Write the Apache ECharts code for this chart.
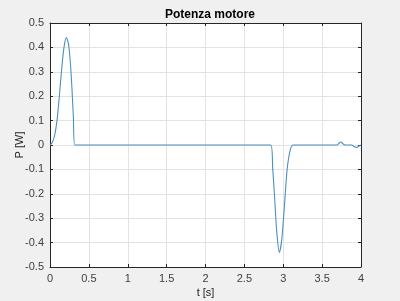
<!DOCTYPE html>
<html><head><meta charset="utf-8">
<script src="https://cdn.jsdelivr.net/npm/echarts@6/dist/echarts.min.js"></script>
<style>html,body{margin:0;padding:0;background:#f0f0f0}#c{width:400px;height:301px}</style>
</head><body><div id="c"></div>
<script>
var titleText = 'Potenza motore';
var xName = 't [s]';
var yName = 'P [W]';
var timeS = [0, 0.03, 0.06, 0.09, 0.12, 0.15, 0.18, 0.21, 0.24, 0.27, 0.30, 0.32,
  1.0, 2.0, 2.84, 2.865, 2.89, 2.915, 2.95, 2.98, 3.015, 3.05, 3.09, 3.13,
  3.5, 3.69, 3.72, 3.745, 3.77, 3.8, 3.88, 3.91, 3.94, 3.97, 4.0];
var powerW = [0, 0.01, 0.04, 0.10, 0.20, 0.31, 0.40, 0.44, 0.41, 0.30, 0.12, 0,
  0, 0, 0, -0.10, -0.22, -0.35, -0.44, -0.39, -0.25, -0.10, -0.02, 0,
  0, 0, 0.008, 0.012, 0.004, 0, 0, -0.006, -0.01, -0.005, 0];
var xTicks = {min: 0, max: 4, step: 0.5};
var yTicks = {min: -0.5, max: 0.5, step: 0.1};

var pts = timeS.map(function(t, i){ return [t, powerW[i]]; });
var font = 'Liberation Sans, Arial, sans-serif';
var axisCol = '#262626';
var labCol = '#404040';
function ax(isX, mirror){
  var t = isX ? xTicks : yTicks;
  return {
    type: 'value', min: t.min, max: t.max, interval: t.step,
    position: isX ? (mirror ? 'top' : 'bottom') : (mirror ? 'right' : 'left'),
    name: mirror ? '' : (isX ? xName : yName),
    nameLocation: 'middle', nameGap: isX ? 20 : 25, nameMoveOverlap: false,
    nameTextStyle: {fontFamily: font, fontSize: 11, color: axisCol},
    axisLine: {show: true, onZero: false, lineStyle: {color: axisCol, width: 1}},
    axisTick: {show: true, inside: true, length: 3, lineStyle: {color: axisCol}},
    axisLabel: {show: !mirror, fontFamily: font, fontSize: 11, color: labCol, margin: 6,
      formatter: function(v){ return String(Math.round(v*10)/10); }},
    splitLine: {show: !mirror, lineStyle: {color: '#e3e3e3', width: 1}}
  };
}
var chart = echarts.init(document.getElementById('c'), null, {renderer: 'canvas'});
chart.setOption({
  backgroundColor: '#f0f0f0',
  animation: false,
  title: {text: titleText, left: 205, top: 4, textAlign: 'center',
    textStyle: {fontFamily: font, fontSize: 12, fontWeight: 'bold', color: '#000'}},
  grid: {left: 50, right: 39, top: 23, bottom: 34, show: true, backgroundColor: '#fff', borderWidth: 0,
    containLabel: false, outerBoundsMode: 'none'},
  xAxis: [ax(true, false), ax(true, true)],
  yAxis: [ax(false, false), ax(false, true)],
  series: [{type: 'line', data: pts, xAxisIndex: 0, yAxisIndex: 0, showSymbol: false,
    smooth: 0.3, lineStyle: {color: '#4a90bf', width: 1.1}}]
});
</script></body></html>
